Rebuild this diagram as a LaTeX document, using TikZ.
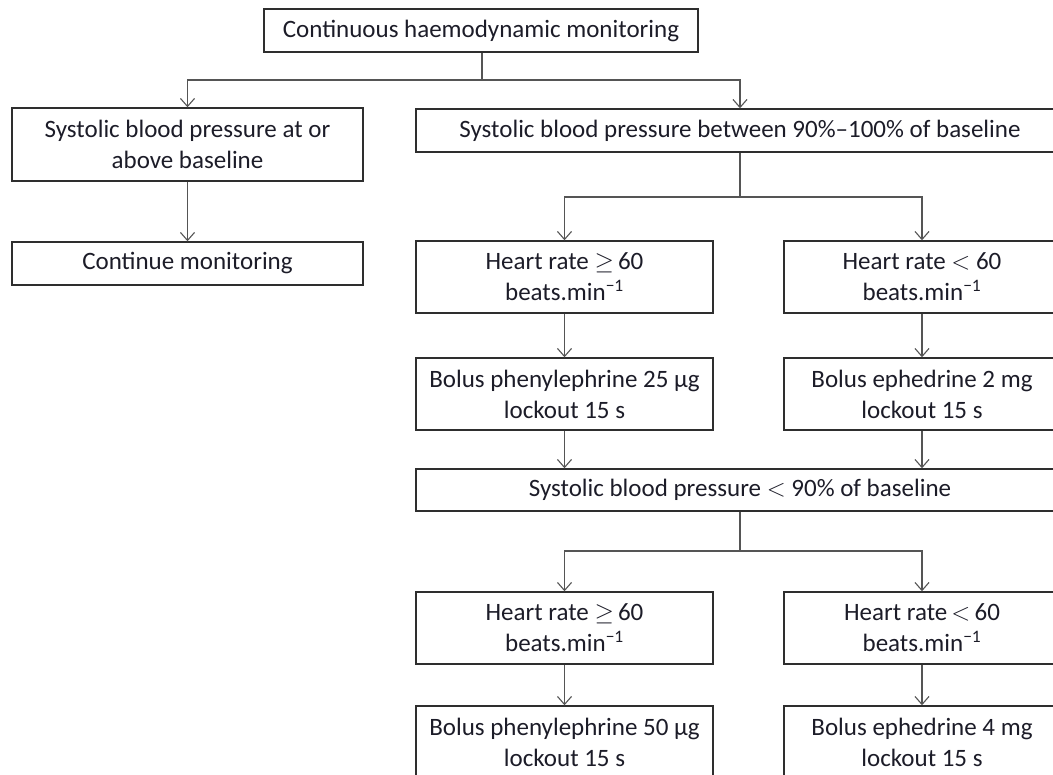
\documentclass[tikz,border=0pt]{standalone}
\usepackage{fontspec}
\setmainfont{Carlito}
\usetikzlibrary{arrows.meta}
\definecolor{boxc}{HTML}{2E2E2E}
\definecolor{linec}{HTML}{555555}
\definecolor{txtc}{HTML}{1C1C28}
\newcommand{\geqsym}{\ensuremath{\geq}}
\newcommand{\ltsym}{\ensuremath{<}}
\tikzset{
  box/.style={draw=boxc, line width=1.4pt, text=txtc, align=center, inner sep=0pt,
    font=\fontsize{25}{31}\selectfont},
  conn/.style={draw=linec, line width=1.1pt},
  arr/.style={conn, -{Straight Barb[length=8pt,width=14pt,line width=1.1pt]}},
}
\begin{document}
\begin{tikzpicture}[x=1pt,y=-1pt]
\useasboundingbox (0,0) rectangle (1053,775);
\clip (0,0) rectangle (1053,775);
\node[box, minimum width=434pt, minimum height=43pt] (top) at (481,30.5) {Continuous haemodynamic monitoring};
\node[box, minimum width=351pt, minimum height=73pt] (sbpA) at (187.5,144.5) {Systolic blood pressure at or\\above baseline};
\node[box, minimum width=351pt, minimum height=43pt] (cont) at (187.5,263.5) {Continue monitoring};
\node[box, minimum width=648pt, minimum height=43pt] (sbpB) at (740,130.5) {Systolic blood pressure between 90\%–100\% of baseline};
\node[box, minimum width=297pt, minimum height=72pt] (hr1) at (564.5,277) {Heart rate \geqsym\,60\\beats.min\textsuperscript{−1}};
\node[box, minimum width=276pt, minimum height=72pt] (hr2) at (922,277) {Heart rate \ltsym\ 60\\beats.min\textsuperscript{−1}};
\node[box, minimum width=297pt, minimum height=72pt] (bol1) at (564.5,394) {Bolus phenylephrine 25 µg\\lockout 15 s};
\node[box, minimum width=276pt, minimum height=72pt] (bol2) at (922,394) {Bolus ephedrine 2 mg\\lockout 15 s};
\node[box, minimum width=648pt, minimum height=42pt] (sbpC) at (740,490) {Systolic blood pressure \ltsym\ 90\% of baseline};
\node[box, minimum width=297pt, minimum height=72pt] (hr3) at (564.5,628) {Heart rate \geqsym\,60\\beats.min\textsuperscript{−1}};
\node[box, minimum width=276pt, minimum height=72pt] (hr4) at (922,628) {Heart rate\,\ltsym\,60\\beats.min\textsuperscript{−1}};
\node[box, minimum width=297pt, minimum height=72pt] (bol3) at (564.5,742) {Bolus phenylephrine 50 µg\\lockout 15 s};
\node[box, minimum width=276pt, minimum height=72pt] (bol4) at (922,742) {Bolus ephedrine 4 mg\\lockout 15 s};
% junctions
\coordinate (j1) at (482,80);
\coordinate (j2) at (740,197);
\coordinate (j3) at (740,551);
\draw[conn] (top.south -| j1) -- (j1);
\draw[arr] (j1) -| (sbpA.north);
\draw[arr] (j1) -| (sbpB.north);
\draw[arr] (sbpA) -- (cont);
\draw[conn] (sbpB.south) -- (j2);
\draw[arr] (j2) -| (hr1.north);
\draw[arr] (j2) -| (hr2.north);
\draw[arr] (hr1) -- (bol1);
\draw[arr] (hr2) -- (bol2);
\draw[arr] (bol1.south) -- (bol1.south |- sbpC.north);
\draw[arr] (bol2.south) -- (bol2.south |- sbpC.north);
\draw[conn] (sbpC.south) -- (j3);
\draw[arr] (j3) -| (hr3.north);
\draw[arr] (j3) -| (hr4.north);
\draw[arr] (hr3) -- (bol3);
\draw[arr] (hr4) -- (bol4);
\end{tikzpicture}
\end{document}
